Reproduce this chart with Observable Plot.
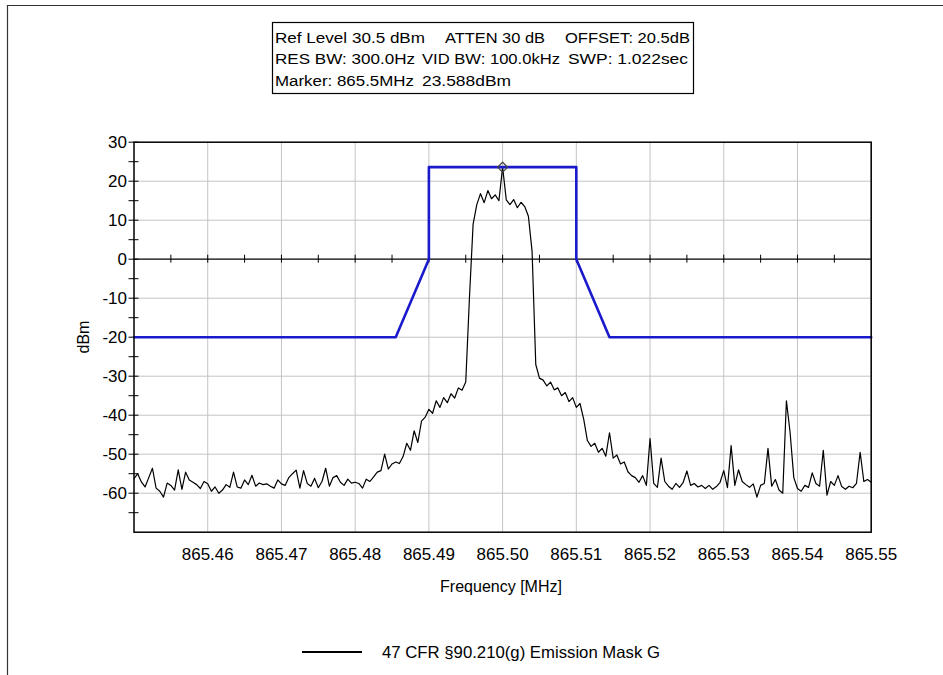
<!DOCTYPE html>
<html><head><meta charset="utf-8">
<script src="https://cdn.jsdelivr.net/npm/d3@7"></script>
<script src="https://cdn.jsdelivr.net/npm/@observablehq/plot@0.6"></script>
<style>html,body{margin:0;padding:0;background:#fff;} svg{display:block;}</style>
</head><body><div id="chart"></div>
<script>
// ---------- data ----------
const xDomain = [865.45, 865.55];
const yDomain = [-70, 30];
const xTickLabels = [865.46, 865.47, 865.48, 865.49, 865.50, 865.51, 865.52, 865.53, 865.54, 865.55];
const xMinorTicks = [865.455, 865.46, 865.465, 865.47, 865.475, 865.48, 865.485, 865.49, 865.495, 865.50, 865.505, 865.51, 865.515, 865.52, 865.525, 865.53, 865.535, 865.54, 865.545];
const yTickLabels = [-60, -50, -40, -30, -20, -10, 0, 10, 20, 30];
const yGridLines = [-60, -50, -40, -30, -20, -10, 10, 20];
const yMinorTicks = [-65, -60, -55, -50, -45, -40, -35, -30, -25, -20, -15, -10, -5, 0, 5, 10, 15, 20, 25, 30];

// spectrum trace (sweep from 865.45 MHz, 0.5 kHz per point)
const sweepStartMHz = 865.45;
const sweepStepMHz = 0.0005;
const traceDbm = [
  -56.3, -55.0, -57.1, -58.4, -56.0, -53.6, -58.7, -59.5, -61.0, -57.4,
  -58.0, -59.2, -54.0, -59.0, -54.6, -56.6, -57.2, -57.8, -58.8, -57.0,
  -57.6, -59.5, -58.4, -60.0, -59.2, -57.8, -58.5, -54.6, -58.4, -58.7,
  -56.6, -57.8, -55.4, -58.2, -57.4, -57.8, -57.6, -58.2, -58.7, -56.6,
  -57.6, -58.0, -56.0, -55.0, -54.1, -58.7, -54.2, -57.5, -58.2, -56.2,
  -58.6, -57.0, -53.6, -58.2, -56.0, -55.5, -57.2, -58.0, -56.4, -57.4,
  -57.2, -57.5, -58.7, -56.4, -57.0, -55.8, -54.6, -54.2, -50.0, -53.8,
  -52.5, -52.0, -52.4, -50.6, -47.2, -49.0, -44.0, -47.0, -41.5, -40.5,
  -38.5, -39.5, -36.3, -38.0, -35.5, -36.8, -34.5, -35.6, -33.0, -33.6,
  -31.5, -10.0, 9.0, 14.0, 16.8, 14.5, 17.6, 15.5, 16.5, 15.0,
  23.6, 15.2, 14.0, 15.3, 13.2, 14.6, 13.5, 11.0, 2.0, -27.0,
  -30.5, -31.0, -32.5, -31.5, -33.5, -33.0, -35.0, -34.2, -36.5, -35.5,
  -38.0, -37.0, -41.0, -46.5, -48.0, -47.2, -49.5, -48.5, -50.5, -44.5,
  -51.0, -50.2, -52.5, -52.0, -54.5, -55.5, -56.0, -57.2, -55.5, -58.0,
  -46.0, -57.5, -58.5, -51.0, -57.0, -58.2, -59.0, -57.5, -58.5, -57.2,
  -54.3, -58.0, -57.5, -58.4, -58.0, -58.8, -58.0, -59.0, -58.3, -57.2,
  -54.2, -58.6, -47.8, -58.0, -54.0, -57.0, -57.8, -58.5, -57.6, -61.0,
  -58.0, -57.5, -48.5, -58.2, -56.5, -59.2, -60.0, -36.3, -44.5, -56.0,
  -58.8, -59.5, -58.0, -58.5, -54.8, -57.5, -58.2, -49.0, -60.5, -57.0,
  -58.0, -55.5, -58.3, -59.0, -58.2, -58.6, -57.5, -49.5, -57.0, -56.5,
  -57.2
];

// emission mask
const maskFreq = [865.45, 865.4855, 865.49, 865.49, 865.51, 865.51, 865.5145, 865.55];
const maskDbm  = [-20, -20, 0, 23.6, 23.6, 0, -20, -20];

// marker
const markerFreq = 865.5;
const markerDbm = 23.588;

// texts
const infoLine1 = ["Ref Level 30.5 dBm", "ATTEN 30 dB", "OFFSET: 20.5dB"];
const infoLine2 = ["RES BW: 300.0Hz", "VID BW: 100.0kHz", "SWP: 1.022sec"];
const infoLine3 = ["Marker: 865.5MHz", "23.588dBm"];
const xLabel = "Frequency [MHz]";
const yLabel = "dBm";
const legendLabel = "47 CFR §90.210(g) Emission Mask G";

// ---------- build ----------
const trace = traceDbm.map((v, i) => ({f: sweepStartMHz + i * sweepStepMHz, v}));
const mask = maskFreq.map((f, i) => ({f, v: maskDbm[i]}));
const font = "'Liberation Sans', Arial, sans-serif";

const W = 943, H = 675;
const mL = 133.5, mR = 72.3, mT = 141.7, mB = 143.3;

const chart = Plot.plot({
  width: W, height: H,
  marginLeft: mL, marginRight: mR, marginTop: mT, marginBottom: mB,
  style: {fontFamily: font, background: "#fff", color: "#000"},
  x: {domain: xDomain, axis: null},
  y: {domain: yDomain, axis: null},
  marks: [
    Plot.gridX({ticks: xTickLabels, stroke: "#c4c4c4", strokeOpacity: 1, strokeWidth: 1}),
    Plot.gridY({ticks: yGridLines, stroke: "#c4c4c4", strokeOpacity: 1, strokeWidth: 1}),
    Plot.ruleY([0], {stroke: "#000", strokeWidth: 1.2}),
    Plot.ruleX(xMinorTicks, {x: d => d, y1: 0, y2: 0, insetTop: -4, insetBottom: -4, stroke: "#000", strokeWidth: 1}),
    Plot.ruleY(yMinorTicks, {y: d => d, x1: xDomain[0], x2: xDomain[0], insetLeft: -5, insetRight: -5, stroke: "#000", strokeWidth: 1}),
    Plot.axisY({ticks: yTickLabels, tickSize: 0, tickPadding: 7, fontSize: 17, label: null, tickFormat: d => String(d)}),
    Plot.axisX({ticks: xTickLabels, tickSize: 0, tickPadding: 16, fontSize: 17, label: null, tickFormat: d => d.toFixed(2)}),
    Plot.line(trace, {x: "f", y: "v", stroke: "#000", strokeWidth: 1.2}),
    Plot.line(mask, {x: "f", y: "v", stroke: "#1a1acc", strokeWidth: 2.6}),
    Plot.dot([{f: markerFreq, v: markerDbm}], {x: "f", y: "v", symbol: "diamond2", r: 4.5, stroke: "#444", strokeWidth: 1.2, fill: "none"}),
    Plot.frame({stroke: "#000", strokeWidth: 1.5})
  ]
});

document.getElementById("chart").appendChild(chart);

const svg = d3.select(chart);
// outer border (top and left)
svg.append("path").attr("d", `M7.5,${H} V5.5 H${W}`).attr("fill", "none").attr("stroke", "#333").attr("stroke-width", 1.2);

// info box
const g = svg.append("g").attr("font-family", font).attr("fill", "#000").attr("font-size", 15.5).attr("text-anchor", "start");
g.append("rect").attr("x", 272.5).attr("y", 22.5).attr("width", 421).attr("height", 71).attr("fill", "#fff").attr("stroke", "#000").attr("stroke-width", 1.2);
const infoPos = [
  {y: 42.7, items: infoLine1, xs: [[275, 425], [445, 545], [565, 690]]},
  {y: 64.3, items: infoLine2, xs: [[275, 415], [422, 560], [568, 688]]},
  {y: 86.0, items: infoLine3, xs: [[275, 414], [422, 511]]}
];
for (const row of infoPos) {
  row.items.forEach((t, i) => {
    g.append("text").attr("x", row.xs[i][0]).attr("y", row.y).attr("text-anchor", "start")
      .attr("textLength", row.xs[i][1] - row.xs[i][0]).attr("lengthAdjust", "spacingAndGlyphs")
      .text(t);
  });
}

// axis labels
svg.append("text").attr("x", 501).attr("y", 592).attr("text-anchor", "middle")
  .attr("font-family", font).attr("font-size", 16).text(xLabel);
svg.append("text").attr("transform", "translate(89,337) rotate(-90)").attr("text-anchor", "middle")
  .attr("font-family", font).attr("font-size", 16).text(yLabel);

// legend
svg.append("line").attr("x1", 302).attr("x2", 362).attr("y1", 652).attr("y2", 652).attr("stroke", "#000").attr("stroke-width", 2.2);
svg.append("text").attr("x", 382).attr("y", 657.5).attr("text-anchor", "start").attr("font-family", font).attr("font-size", 16.5)
  .attr("textLength", 278).attr("lengthAdjust", "spacingAndGlyphs").text(legendLabel);
</script>
</body></html>
